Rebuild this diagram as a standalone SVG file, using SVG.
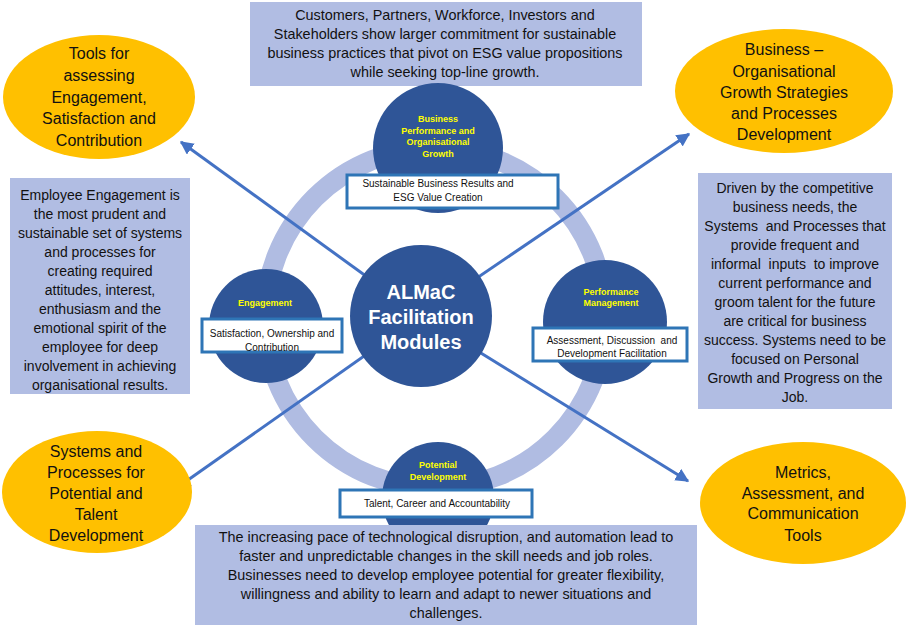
<svg xmlns="http://www.w3.org/2000/svg" width="907" height="632" viewBox="0 0 907 632">
<defs>
<marker id="ah" viewBox="0 0 10 10" refX="9" refY="5" markerWidth="4.5" markerHeight="4.5" orient="auto" markerUnits="strokeWidth">
<path d="M0,0 L10,5 L0,10 z" fill="#4472C4"/>
</marker>
<style>
.box{fill:#b1bde3}
.ell{fill:#FFC000}
.circ{fill:#2F5597}
.lbl{fill:#ffffff;stroke:#2E75B6;stroke-width:3}
.t{font-family:"Liberation Sans",Arial,sans-serif;fill:#111;text-anchor:middle}
.bt{font-size:14.4px}
.st{font-size:14px}
.et{font-size:16px}
.ct{font-size:9px;font-weight:bold;fill:#FFFF00}
.lt{font-size:10px}
.big{font-family:"Liberation Sans",Arial,sans-serif;font-size:20px;font-weight:bold;fill:#fff;text-anchor:middle}
.arr{stroke:#4472C4;stroke-width:3;fill:none;marker-end:url(#ah)}
</style>
</defs>
<rect width="907" height="632" fill="#fff"/>

<circle id="ring" cx="435" cy="318" r="170" fill="none" stroke="#b0bce2" stroke-width="20"/>

<g id="connectors">
<line class="arr" x1="421" y1="316" x2="181" y2="142"/>
<line class="arr" x1="421" y1="316" x2="689" y2="134"/>
<line class="arr" x1="421" y1="316" x2="178" y2="487"/>
<line class="arr" x1="421" y1="316" x2="688" y2="481"/>
</g>

<g id="top-box">
<rect class="box" x="250" y="2" width="392" height="84"/>
<text class="t bt" x="445" y="20">Customers, Partners, Workforce, Investors and</text>
<text class="t bt" x="445" y="39">Stakeholders show larger commitment for sustainable</text>
<text class="t bt" x="445" y="58">business practices that pivot on ESG value propositions</text>
<text class="t bt" x="445" y="77">while seeking top-line growth.</text>
</g>

<g id="tl-ellipse">
<ellipse class="ell" cx="99" cy="97" rx="96" ry="62"/>
<text class="t et" x="99" y="59">Tools for</text>
<text class="t et" x="99" y="81">assessing</text>
<text class="t et" x="99" y="102.5">Engagement,</text>
<text class="t et" x="99" y="124">Satisfaction and</text>
<text class="t et" x="99" y="146">Contribution</text>
</g>

<g id="tr-ellipse">
<ellipse class="ell" cx="784" cy="91" rx="109" ry="62"/>
<text class="t et" x="784" y="55">Business –</text>
<text class="t et" x="784" y="77">Organisational</text>
<text class="t et" x="784" y="98">Growth Strategies</text>
<text class="t et" x="784" y="119">and Processes</text>
<text class="t et" x="784" y="140">Development</text>
</g>

<g id="bl-ellipse">
<ellipse class="ell" cx="97" cy="492" rx="95" ry="61"/>
<text class="t et" x="96" y="457">Systems and</text>
<text class="t et" x="96" y="478">Processes for</text>
<text class="t et" x="96" y="499">Potential and</text>
<text class="t et" x="96" y="520">Talent</text>
<text class="t et" x="96" y="541">Development</text>
</g>

<g id="br-ellipse">
<ellipse class="ell" cx="803" cy="503" rx="103" ry="61"/>
<text class="t et" x="803" y="478">Metrics,</text>
<text class="t et" x="803" y="499">Assessment, and</text>
<text class="t et" x="803" y="519">Communication</text>
<text class="t et" x="803" y="541">Tools</text>
</g>

<g id="left-box">
<rect class="box" x="10" y="178" width="180" height="216"/>
<text class="t st" x="100" y="200">Employee Engagement is</text>
<text class="t st" x="100" y="219">the most prudent and</text>
<text class="t st" x="100" y="238">sustainable set of systems</text>
<text class="t st" x="100" y="257">and processes for</text>
<text class="t st" x="100" y="276">creating required</text>
<text class="t st" x="100" y="295">attitudes, interest,</text>
<text class="t st" x="100" y="314">enthusiasm and the</text>
<text class="t st" x="100" y="333">emotional spirit of the</text>
<text class="t st" x="100" y="352">employee for deep</text>
<text class="t st" x="100" y="371">involvement in achieving</text>
<text class="t st" x="100" y="390">organisational results.</text>
</g>

<g id="right-box">
<rect class="box" x="698" y="173" width="194" height="236"/>
<text class="t st" x="795" y="193">Driven by the competitive</text>
<text class="t st" x="795" y="212">business needs, the</text>
<text class="t st" x="795" y="231" xml:space="preserve">Systems  and Processes that</text>
<text class="t st" x="795" y="250">provide frequent and</text>
<text class="t st" x="795" y="269" xml:space="preserve">informal  inputs  to improve</text>
<text class="t st" x="795" y="288">current performance and</text>
<text class="t st" x="795" y="307">groom talent for the future</text>
<text class="t st" x="795" y="326">are critical for business</text>
<text class="t st" x="795" y="345">success. Systems need to be</text>
<text class="t st" x="795" y="364">focused on Personal</text>
<text class="t st" x="795" y="383">Growth and Progress on the</text>
<text class="t st" x="795" y="402">Job.</text>
</g>

<g id="center">
<circle class="circ" cx="421" cy="316" r="71"/>
<text class="big" x="421" y="299">ALMaC</text>
<text class="big" x="421" y="324">Facilitation</text>
<text class="big" x="421" y="349">Modules</text>
</g>

<g id="business-performance">
<circle class="circ" cx="438" cy="148" r="65"/>
<text class="t ct" x="438" y="122">Business</text>
<text class="t ct" x="438" y="134">Performance and</text>
<text class="t ct" x="438" y="145">Organisational</text>
<text class="t ct" x="438" y="157">Growth</text>
<rect class="lbl" x="347" y="175" width="211" height="33"/>
<text class="t lt" x="438" y="187">Sustainable Business Results and</text>
<text class="t lt" x="438" y="201">ESG Value Creation</text>
</g>

<g id="engagement">
<circle class="circ" cx="266" cy="326" r="57"/>
<text class="t ct" x="265" y="306">Engagement</text>
<rect class="lbl" x="202" y="319" width="140" height="33"/>
<text class="t lt" x="272" y="337">Satisfaction, Ownership and</text>
<text class="t lt" x="272" y="351">Contribution</text>
</g>

<g id="performance-management">
<circle class="circ" cx="605" cy="322" r="62"/>
<text class="t ct" x="611" y="295">Performance</text>
<text class="t ct" x="611" y="306">Management</text>
<rect class="lbl" x="533" y="328" width="154" height="33"/>
<text class="t lt" x="612" y="344" xml:space="preserve">Assessment, Discussion  and</text>
<text class="t lt" x="612" y="357">Development Facilitation</text>
</g>

<g id="potential-development">
<circle class="circ" cx="438" cy="498" r="56"/>
<text class="t ct" x="438" y="468">Potential</text>
<text class="t ct" x="438" y="480">Development</text>
<rect class="lbl" x="340" y="490" width="192" height="27"/>
<text class="t lt" x="437" y="507">Talent, Career and Accountability</text>
</g>

<g id="bottom-box">
<rect class="box" x="195" y="525" width="502" height="100"/>
<text class="t bt" x="446" y="542">The increasing pace of technological disruption, and automation lead to</text>
<text class="t bt" x="446" y="561">faster and unpredictable changes in the skill needs and job roles.</text>
<text class="t bt" x="446" y="580">Businesses need to develop employee potential for greater flexibility,</text>
<text class="t bt" x="446" y="599">willingness and ability to learn and adapt to newer situations and</text>
<text class="t bt" x="446" y="618">challenges.</text>
</g>
</svg>
